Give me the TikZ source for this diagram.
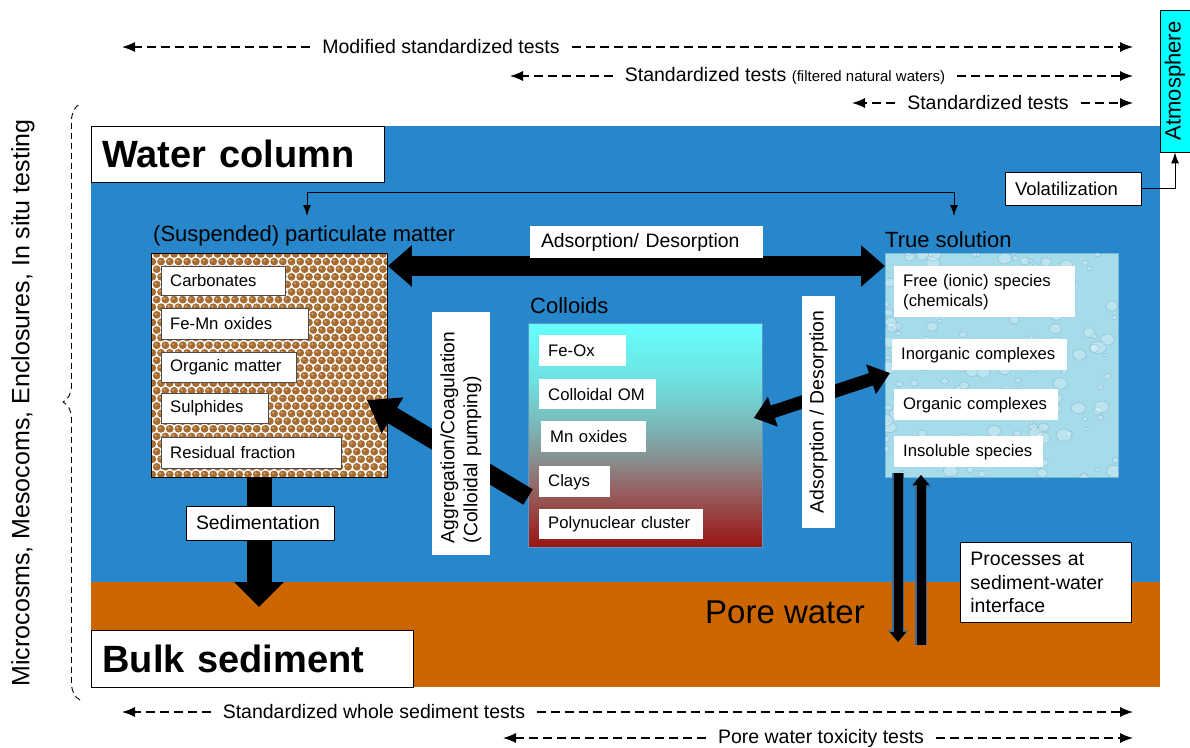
\documentclass[tikz,border=0pt]{standalone}
\usepackage{fontspec}
\setmainfont{Liberation Sans}
\usetikzlibrary{arrows.meta,decorations.pathreplacing}
\definecolor{waterblue}{RGB}{40,134,202}
\definecolor{sedorange}{RGB}{204,102,0}
\definecolor{atmcyan}{RGB}{0,255,255}
\definecolor{pmbrown}{RGB}{166,108,50}
\definecolor{pmlight}{RGB}{205,160,110}
\definecolor{tsblue}{RGB}{166,219,234}
\definecolor{tsedge}{RGB}{120,185,215}
\definecolor{tsdark}{RGB}{80,150,185}
\definecolor{vedge}{RGB}{60,105,150}
\definecolor{colcyan}{RGB}{102,255,255}
\definecolor{colaqua}{RGB}{110,225,225}
\definecolor{colteal}{RGB}{122,185,185}
\definecolor{colgray}{RGB}{135,145,145}
\definecolor{colrose}{RGB}{150,95,95}
\definecolor{colred}{RGB}{155,20,20}
\definecolor{coledge}{RGB}{90,150,200}
\pgfdeclareverticalshading{colloidshade}{100bp}{color(0bp)=(colred); color(25bp)=(colred); color(37.5bp)=(colrose); color(45bp)=(colgray); color(52.5bp)=(colteal); color(62.5bp)=(colaqua); color(75bp)=(colcyan); color(100bp)=(colcyan)}
\begin{document}
\begin{tikzpicture}[x=1pt, y=-1pt, line join=round,
  testlabel/.style={font=\fontsize{19.5}{23}\selectfont, inner xsep=12pt, inner ysep=2pt},
  testline/.style={line width=1.2pt, dash pattern=on 9pt off 5pt, arrows=-{Latex[length=13pt,width=10pt]}},
  titlebox/.style={draw, fill=white, line width=0.8pt, anchor=north west, inner xsep=11pt, align=left, font=\bfseries\fontsize{38}{44}\selectfont},
  labelbox/.style={draw, fill=white, line width=0.8pt, font=\fontsize{19}{23}\selectfont},
  whitebox/.style={fill=white, font=\fontsize{19.4}{23}\selectfont},
  itembox/.style={fill=white, anchor=north west, align=left, inner xsep=9pt, font=\fontsize{16.7}{20}\selectfont},
  grouplabel/.style={inner sep=0pt, anchor=west, font=\fontsize{22}{26}\selectfont},
  bigflux/.style={line width=20pt, arrows={Triangle[width=40pt,length=24pt]-Triangle[width=40pt,length=24pt]}},
  aggflux/.style={line width=18pt, arrows=-{Triangle[width=40pt,length=30pt]}},
  diagflux/.style={line width=13pt, arrows={Triangle[width=30pt,length=20pt]-Triangle[width=30pt,length=20pt]}},
  sedflux/.style={line width=25pt, arrows=-{Triangle[width=48pt,length=25pt]}},
  vflux/.style={preaction={draw=vedge, line width=12pt, arrows=-{Triangle[width=20pt,length=12pt]}}, line width=9pt, arrows=-{Triangle[width=16pt,length=10pt]}},
  thinflux/.style={line width=1pt, arrows=-{Latex[length=11pt,width=8pt]}}]
\useasboundingbox (0,0) rectangle (1190,747);

% water column and sediment
\fill[waterblue] (91,126) rectangle (1160,582);
\fill[sedorange] (91,582) rectangle (1160,687);

% tests along the top and bottom
\node[testlabel] (mst) at (441,47) {Modified standardized tests};
\coordinate (mstL) at (122,47);
\coordinate (mstR) at (1133,47);
\draw[testline] (mst) -- (mstL);
\draw[testline] (mst) -- (mstR);
\node[testlabel] (fnw) at (785,76) {Standardized tests {\fontsize{15}{18}\selectfont (filtered natural waters)}};
\coordinate (fnwL) at (510,76);
\coordinate (fnwR) at (1133,76);
\draw[testline] (fnw) -- (fnwL);
\draw[testline] (fnw) -- (fnwR);
\node[testlabel] (st) at (988,103) {Standardized tests};
\coordinate (stL) at (852,103);
\coordinate (stR) at (1133,103);
\draw[testline] (st) -- (stL);
\draw[testline] (st) -- (stR);
\node[testlabel] (wst) at (374,712) {Standardized whole sediment tests};
\coordinate (wstL) at (122,712);
\coordinate (wstR) at (1133,712);
\draw[testline] (wst) -- (wstL);
\draw[testline] (wst) -- (wstR);
\node[testlabel] (pwt) at (821,738) {Pore water toxicity tests};
\coordinate (pwtL) at (503,738);
\coordinate (pwtR) at (1133,738);
\draw[testline] (pwt) -- (pwtL);
\draw[testline] (pwt) -- (pwtR);

% field scale on the left
\coordinate (braceB) at (80,700);
\coordinate (braceT) at (80,104);
\draw[line width=0.9pt, dash pattern=on 6pt off 4pt, decorate, decoration={brace, amplitude=17pt}] (braceB) -- (braceT);
\node[rotate=90, font=\fontsize{25}{30}\selectfont] (field) at (23,403) {Microcosms, Mesocoms, Enclosures, In situ testing};

% particulate matter
\begin{scope}
\clip (151,253) rectangle (387,477);
\fill[white] (151,253) rectangle (387,477);
\foreach \j in {0,...,30}{
  \pgfmathsetmacro{\off}{mod(\j,2)*4.35}
  \foreach \i in {0,...,28}{
    \fill[pmbrown] (148+\i*8.7+\off, 254+\j*7.6) circle (3.9);
    \fill[pmlight] (147+\i*8.7+\off, 253+\j*7.6) circle (1.3);
  }
}
\end{scope}
\node[draw, line width=0.8pt, anchor=north west, inner sep=0pt, minimum width=236pt, minimum height=224pt] (pm) at (151,253) {};

% true solution
\node[draw=tsedge, fill=tsblue, line width=1pt, anchor=north west, inner sep=0pt, minimum width=233pt, minimum height=224pt] (ts) at (885,253) {};
\begin{scope}
\clip (885,253) rectangle (1118,477);
\pgfmathsetseed{11}
\foreach \k in {1,...,170}{
  \pgfmathsetmacro{\dx}{885+233*rnd}
  \pgfmathsetmacro{\dy}{253+224*rnd}
  \pgfmathsetmacro{\dr}{2+6*rnd}
  \draw[draw=tsdark, draw opacity=0.35, fill=white, fill opacity=0.25, line width=0.6pt] (\dx,\dy) ellipse ({\dr} and {0.8*\dr});
}
\end{scope}

% colloids
\node[draw=coledge, shading=colloidshade, line width=0.8pt, anchor=north west, inner sep=0pt, minimum width=234pt, minimum height=224pt] (col) at (528,323) {};

% fluxes
\draw[bigflux] ([yshift=-13pt]pm.north east) -- ([yshift=-13pt]ts.north west);
\draw[aggflux] ([yshift=-174pt]col.north west) -- ([xshift=-21pt,yshift=-147pt]pm.north east);
\draw[diagflux] ([xshift=-9pt,yshift=-95pt]col.north east) -- ([xshift=5pt,yshift=-120pt]ts.north west);
\coordinate (sedtip) at (259,607);
\draw[sedflux] (pm.south -| sedtip) -- (sedtip);
\coordinate (dntip) at (898,642);
\coordinate (uptail) at (921,645);
\draw[vflux] ([xshift=13pt,yshift=5pt]ts.south west) -- (dntip);
\draw[vflux] (uptail) -- ([xshift=36pt,yshift=3pt]ts.south west);
\coordinate (mixL) at (307,216);
\coordinate (mixR) at (954,216);
\draw[thinflux, arrows={Latex[length=11pt,width=8pt]-Latex[length=11pt,width=8pt]}] (mixL) -- ++(0,-24) -| (mixR);

% compartments
\node[titlebox, minimum height=56pt, text width=271pt] (wcol) at (91,126) {Water column};
\node[titlebox, minimum height=57pt, text width=300pt] (bulk) at (91,630) {Bulk sediment};
\node[draw, fill=atmcyan, line width=0.8pt, rotate=90, inner sep=0pt, minimum width=142pt, minimum height=30pt, font=\fontsize{22}{26}\selectfont] (atm) at (1175,81) {Atmosphere};
\node[labelbox, align=left, inner xsep=10pt, text width=116pt, minimum height=33pt, font=\fontsize{18.5}{22}\selectfont] (vol) at (1073,188.5) {Volatilization};
\draw[thinflux] (vol.east) -| (atm.west);
\node[font=\fontsize{33}{40}\selectfont] (pw) at (785,612) {Pore water};
\node[labelbox, anchor=north west, align=left, inner xsep=10pt, text width=151pt, minimum height=80pt, font=\fontsize{19.5}{23.5}\selectfont] (swi) at (960,542) {Processes at\\sediment-water\\interface};

% process labels
\node[whitebox, align=left, inner xsep=11pt, text width=211pt, minimum height=32pt] (ads) at (646.5,242) {Adsorption/ Desorption};
\node[labelbox, align=left, inner xsep=10pt, text width=128pt, minimum height=34pt, font=\fontsize{19.4}{23}\selectfont] (sed) at (260,523) {Sedimentation};
\node[whitebox, rotate=90, align=left, inner xsep=12pt, text width=219pt, minimum height=58pt, font=\fontsize{19.2}{23}\selectfont] (agg) at (461,433.5) {Aggregation/Coagulation\\(Colloidal pumping)};
\node[whitebox, rotate=90, minimum width=232pt, minimum height=33pt] (adsv) at (818.5,412) {Adsorption / Desorption};

% group titles
\node[grouplabel] (pmlab) at (153,236) {(Suspended) particulate matter};
\node[grouplabel] (collab) at (530,306) {Colloids};
\node[grouplabel] (tslab) at (885,240) {True solution};

% particulate fractions
\node[itembox, text width=106pt, minimum height=29pt] (pm1) at (161,266) {Carbonates};
\node[itembox, text width=129pt, minimum height=30pt] (pm2) at (161,308.5) {Fe-Mn oxides};
\node[itembox, text width=117pt, minimum height=30pt] (pm3) at (161,352) {Organic matter};
\node[itembox, text width=89pt, minimum height=30pt] (pm4) at (161,393) {Sulphides};
\node[itembox, text width=162pt, minimum height=30pt] (pm5) at (161,437.5) {Residual fraction};
\foreach \k in {1,...,5} \draw[line width=0.6pt, black!70] (pm\k.north west) rectangle (pm\k.south east);

% colloid types
\node[itembox, text width=69pt, minimum height=31pt] (col1) at (539,335) {Fe-Ox};
\node[itembox, text width=99pt, minimum height=30pt] (col2) at (539,379) {Colloidal OM};
\node[itembox, text width=87pt, minimum height=31pt] (col3) at (541,421) {Mn oxides};
\node[itembox, text width=53pt, minimum height=31pt] (col4) at (539,466) {Clays};
\node[itembox, text width=146pt, minimum height=30pt] (col5) at (539,509) {Polynuclear cluster};

% dissolved species
\node[itembox, text width=163pt, minimum height=51pt] (ts1) at (894,266) {Free (ionic) species\\(chemicals)};
\node[itembox, text width=157pt, minimum height=31pt] (ts2) at (892,339) {Inorganic complexes};
\node[itembox, text width=146pt, minimum height=31pt] (ts3) at (894,389) {Organic complexes};
\node[itembox, text width=131pt, minimum height=31pt] (ts4) at (894,436) {Insoluble species};
\end{tikzpicture}
\end{document}
